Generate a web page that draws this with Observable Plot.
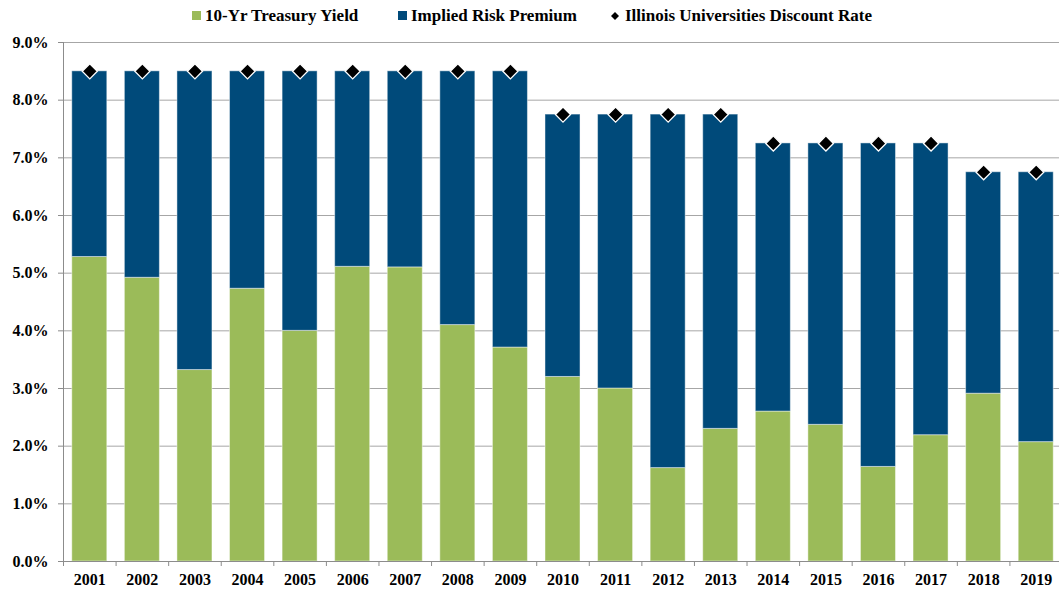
<!DOCTYPE html>
<html>
<head>
<meta charset="utf-8">
<script src="https://cdn.jsdelivr.net/npm/d3@7"></script>
<script src="https://cdn.jsdelivr.net/npm/@observablehq/plot@0.6"></script>
<style>
  html, body { margin: 0; padding: 0; background: #fff; overflow: hidden; }
  #legend { display: block; }
  .lg { font-family: 'Liberation Serif', 'Times New Roman', serif; font-weight: bold; font-size: 17px; fill: #000; }
</style>
</head>
<body>
<svg id="legend" width="1059" height="30"></svg>
<div id="chart"></div>
<script>
const years = ["2001","2002","2003","2004","2005","2006","2007","2008","2009","2010","2011","2012","2013","2014","2015","2016","2017","2018","2019"];
const treasuryYield = [5.28, 4.92, 3.32, 4.73, 4.00, 5.11, 5.10, 4.10, 3.71, 3.20, 3.00, 1.62, 2.30, 2.60, 2.37, 1.64, 2.19, 2.91, 2.07];
const riskPremium   = [3.22, 3.58, 5.18, 3.77, 4.50, 3.39, 3.40, 4.40, 4.79, 4.55, 4.75, 6.13, 5.45, 4.65, 4.88, 5.61, 5.06, 3.84, 4.68];
const discountRate  = [8.50, 8.50, 8.50, 8.50, 8.50, 8.50, 8.50, 8.50, 8.50, 7.75, 7.75, 7.75, 7.75, 7.25, 7.25, 7.25, 7.25, 6.75, 6.75];
const seriesNames = ["10-Yr Treasury Yield", "Implied Risk Premium", "Illinois Universities Discount Rate"];
const seriesColors = ["#9BBB59", "#004A7A", "#000000"];
const yTicks = [0, 1, 2, 3, 4, 5, 6, 7, 8, 9];

const rows = [];
years.forEach((y, i) => {
  rows.push({year: y, series: seriesNames[0], value: treasuryYield[i]});
  rows.push({year: y, series: seriesNames[1], value: riskPremium[i]});
});
const points = years.map((y, i) => ({year: y, rate: discountRate[i]}));

// Legend
const lg = d3.select("#legend");
lg.append("rect").attr("x", 192).attr("y", 11).attr("width", 9).attr("height", 9).attr("fill", seriesColors[0]);
lg.append("text").attr("class", "lg").attr("x", 205).attr("y", 21).text(seriesNames[0]);
lg.append("rect").attr("x", 398).attr("y", 11).attr("width", 9).attr("height", 9).attr("fill", seriesColors[1]);
lg.append("text").attr("class", "lg").attr("x", 411).attr("y", 21).text(seriesNames[1]);
lg.append("path").attr("d", "M615,12 L619,16 L615,20 L611,16 Z").attr("fill", seriesColors[2]);
lg.append("text").attr("class", "lg").attr("x", 625).attr("y", 21).text(seriesNames[2]);

const W = 1059, ML = 63, MR = -3;
const step = (W - ML - MR) / years.length;
const inset = step * 0.167;

const chart = Plot.plot({
  width: W,
  height: 561,
  marginTop: 12,
  marginBottom: 30,
  marginLeft: ML,
  marginRight: MR,
  style: {
    fontFamily: "'Liberation Serif', 'Times New Roman', serif",
    fontSize: "16px",
    fontWeight: "bold",
    color: "#000",
    background: "#fff",
    overflow: "visible"
  },
  x: {domain: years, padding: 0, round: false, label: null},
  y: {domain: [0, 9], label: null},
  color: {domain: seriesNames.slice(0, 2), range: seriesColors.slice(0, 2)},
  marks: [
    Plot.ruleY(yTicks.slice(1), {stroke: "#a6a6a6", strokeWidth: 1}),
    Plot.barY(rows, {x: "year", y: "value", fill: "series", insetLeft: inset, insetRight: inset, stroke: "#ffffff", strokeOpacity: 0.45, strokeWidth: 1}),
    Plot.ruleY([0], {stroke: "#8c8c8c", strokeWidth: 1}),
    Plot.ruleX([years[0]], {y1: 0, y2: 9, dx: -step / 2, stroke: "#8c8c8c", strokeWidth: 1}),
    Plot.dot(points, {x: "year", y: "rate", symbol: "diamond2", r: 6.8, fill: "#000", stroke: "#fff", strokeWidth: 1.3}),
    Plot.axisY({ticks: yTicks, tickFormat: d => d.toFixed(1) + "%", tickSize: 5, tickPadding: 10, stroke: "#8c8c8c", fill: "#000", label: null}),
    Plot.axisX({tickSize: 0, tickPadding: 12, fill: "#000", label: null}),
    Plot.axisX({text: null, tickSize: 5, dx: -step / 2, stroke: "#8c8c8c", label: null}),
    Plot.axisX([years[years.length - 1]], {text: null, tickSize: 5, dx: step / 2, stroke: "#8c8c8c", label: null})
  ]
});
document.getElementById("chart").appendChild(chart);
</script>
</body>
</html>
